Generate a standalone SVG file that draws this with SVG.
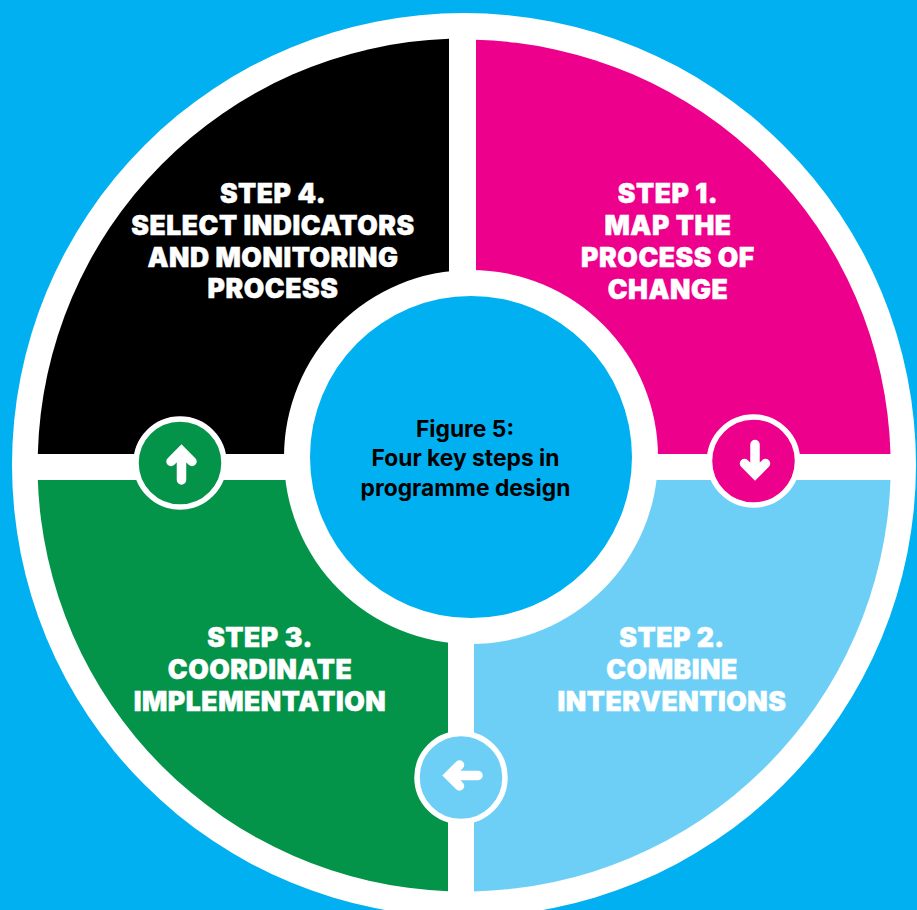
<svg xmlns="http://www.w3.org/2000/svg" width="917" height="910" viewBox="0 0 917 910">
<style>
.t{font-family:"Inter","Lato","Liberation Sans",sans-serif;font-weight:900;font-size:26.5px;fill:#fff;stroke:#fff;stroke-width:.5px;text-anchor:middle;letter-spacing:.55px}
.c{font-family:"Inter","Lato","Liberation Sans",sans-serif;font-weight:700;font-size:22.8px;fill:#000;text-anchor:middle}
.a{fill:none;stroke:#fff;stroke-width:9.5;stroke-linecap:round;stroke-linejoin:miter}
.r{stroke:#fff;stroke-width:5.5}
</style>
<rect width="917" height="910" fill="#00b0f0"/>
<circle cx="464" cy="465" r="452" fill="#fff"/>
<g id="step1"><path d="M476 39.8A426.500 426.500 0 0 1 890.5 454H476Z" fill="#ec008c"/><text class="t" x="668" y="203">STEP 1.</text><text class="t" x="668" y="235">MAP THE</text><text class="t" x="668" y="267">PROCESS OF</text><text class="t" x="668" y="299">CHANGE</text></g>
<g id="step2"><path d="M474 480H890.500A426.500 426.500 0 0 1 474 891.400Z" fill="#6dcff6"/><text class="t" x="672" y="647">STEP 2.</text><text class="t" x="672" y="679">COMBINE</text><text class="t" x="672" y="711">INTERVENTIONS</text></g>
<g id="step3"><path d="M448 480H37.800A426.500 426.500 0 0 0 448 891.200Z" fill="#039449"/><text class="t" x="260" y="647">STEP 3.</text><text class="t" x="260" y="679">COORDINATE</text><text class="t" x="260" y="711">IMPLEMENTATION</text></g>
<g id="step4"><path d="M449 38.800A426.500 426.500 0 0 0 37.800 454H449Z" fill="#000"/><text class="t" x="273" y="203">STEP 4.</text><text class="t" x="273" y="235">SELECT INDICATORS</text><text class="t" x="273" y="267">AND MONITORING</text><text class="t" x="273" y="298">PROCESS</text></g>
<g id="centre"><circle cx="471" cy="457" r="187" fill="#fff"/><circle cx="471" cy="457" r="161" fill="#00b0f0"/><text class="c" x="465" y="437">Figure 5:</text><text class="c" x="465.500" y="466">Four key steps in</text><text class="c" x="465.500" y="496">programme design</text></g>
<g id="connectors">
<g id="arrow-down"><circle class="r" cx="753.500" cy="461" r="44" fill="#ec008c"/><path class="a" d="M755 444.500V474M744.500 463.500L755 474L765.500 463.500"/></g>
<g id="arrow-left"><circle class="r" cx="461" cy="777.500" r="44" fill="#6dcff6"/><path class="a" d="M478 775.500H449M459.500 765L449 775.500L459.500 786"/></g>
<g id="arrow-up"><circle class="r" cx="180" cy="463" r="44" fill="#039449"/><path class="a" d="M181.500 480V451M171 461.500L181.500 451L192 461.500"/></g>
</g>
</svg>
